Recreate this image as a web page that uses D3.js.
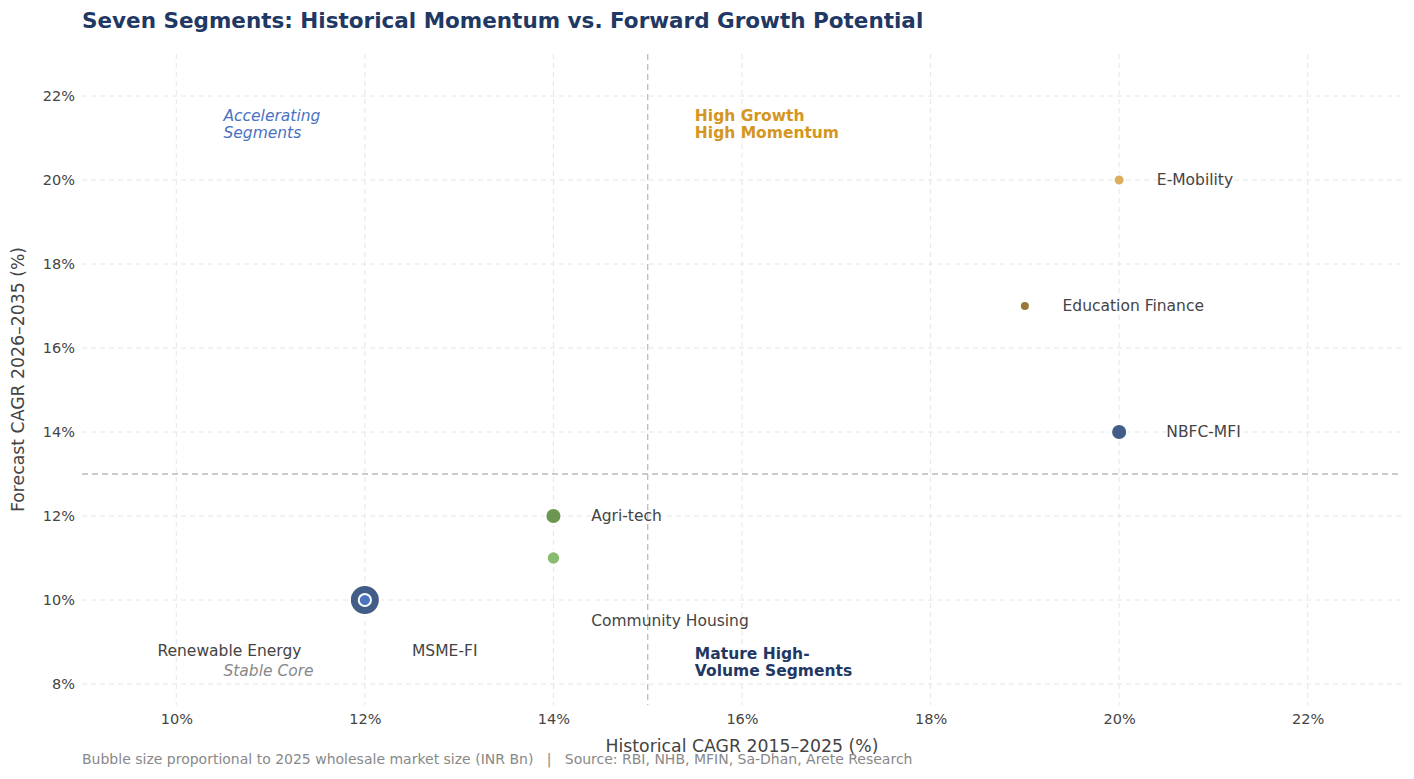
<!DOCTYPE html>
<html lang="en">
  <head>
    <meta charset="utf-8">
    <title>Seven Segments</title>
    <style>
      body { margin: 0; background: #fff; font-family: "DejaVu Sans", sans-serif; }
      .grid line { stroke: #e6e6e6; stroke-dasharray: 5,4; }
      .tick text { fill: #444; font-size: 14.5px; }
    </style>
  </head>
  <body>
    <div class="graph"></div>
    <script src="https://d3js.org/d3.v7.min.js"></script>
    <script>
      // segments, drawn big first so the small ones sit on top
      var segments = ['MSME-FI', 'Renewable Energy', 'NBFC-MFI', 'Agri-tech', 'Community Housing', 'E-Mobility', 'Education Finance'];
      var historical = [12, 12, 20, 14, 14, 20, 19];
      var forecast = [10, 10, 14, 12, 11, 20, 17];
      var marketSize = [900, 150, 260, 260, 180, 120, 100];
      var colors = ['#2f4b7c', '#4a78c8', '#2f4b7c', '#5b8c3e', '#7bb661', '#d9a54a', '#8b6d1e'];
      // label anchor points (in data units)
      var labelX = [12.5, 9.8, 20.5, 14.4, 14.4, 20.4, 19.4];
      var labelY = [8.8, 8.8, 14, 12, 9.5, 20, 17];

      var xTicks = [10, 12, 14, 16, 18, 20, 22];
      var yTicks = [8, 10, 12, 14, 16, 18, 20, 22];

      var width = 1414, height = 779;
      var margin = {top: 54, right: 12, bottom: 74, left: 82};

      var svg = d3.select('.graph').append('svg')
                  .attr('width', width).attr('height', height);

      var x = d3.scaleLinear().domain([9, 23]).range([margin.left, width - margin.right]);
      var y = d3.scaleLinear().domain([7.5, 23]).range([height - margin.bottom, margin.top]);
      var r = d3.scaleSqrt().domain([0, 900]).range([0, 15]);

      // grid
      svg.append('g').attr('class', 'grid')
         .selectAll('line').data(xTicks).enter().append('line')
         .attr('x1', function(d) { return x(d); }).attr('x2', function(d) { return x(d); })
         .attr('y1', y.range()[1]).attr('y2', y.range()[0]);
      svg.append('g').attr('class', 'grid')
         .selectAll('line').data(yTicks).enter().append('line')
         .attr('y1', function(d) { return y(d); }).attr('y2', function(d) { return y(d); })
         .attr('x1', x.range()[0]).attr('x2', x.range()[1]);

      // axes
      var xAxis = svg.append('g')
                     .attr('transform', 'translate(0,' + (height - margin.bottom) + ')')
                     .call(d3.axisBottom(x).tickValues(xTicks).tickSize(0).tickPadding(9)
                             .tickFormat(function(d) { return d + '%'; }));
      var yAxis = svg.append('g')
                     .attr('transform', 'translate(' + margin.left + ',0)')
                     .call(d3.axisLeft(y).tickValues(yTicks).tickSize(0).tickPadding(7)
                             .tickFormat(function(d) { return d + '%'; }));
      xAxis.select('.domain').remove();
      yAxis.select('.domain').remove();
      svg.selectAll('.tick text').attr('font-family', '"DejaVu Sans", sans-serif');

      // quadrant dividers
      svg.append('line')
         .attr('x1', x(15)).attr('x2', x(15)).attr('y1', y.range()[1]).attr('y2', y.range()[0])
         .attr('stroke', '#bbb').attr('stroke-width', 1.3).attr('stroke-dasharray', '6,4');
      svg.append('line')
         .attr('y1', y(13)).attr('y2', y(13)).attr('x1', x.range()[0]).attr('x2', x.range()[1])
         .attr('stroke', '#bbb').attr('stroke-width', 1.3).attr('stroke-dasharray', '6,4');

      // bubbles
      svg.append('g').selectAll('circle').data(segments).enter().append('circle')
         .attr('cx', function(d, i) { return x(historical[i]); })
         .attr('cy', function(d, i) { return y(forecast[i]); })
         .attr('r', function(d, i) { return r(marketSize[i]); })
         .attr('fill', function(d, i) { return colors[i]; })
         .attr('fill-opacity', 0.9)
         .attr('stroke', '#fff').attr('stroke-width', 2);

      // segment labels
      svg.append('g').selectAll('text').data(segments).enter().append('text')
         .attr('x', function(d, i) { return x(labelX[i]); })
         .attr('y', function(d, i) { return y(labelY[i]); })
         .attr('dy', '0.35em')
         .attr('font-size', 15.5).attr('fill', '#444')
         .text(function(d) { return d; });

      // quadrant labels
      var quadrants = [
        {lines: ['Accelerating', 'Segments'], qx: 10.5, qy: 21.4, color: '#4a72c4', style: 'italic', weight: 'normal'},
        {lines: ['High Growth', 'High Momentum'], qx: 15.5, qy: 21.4, color: '#d4961e', style: 'normal', weight: 'bold'},
        {lines: ['Mature High-', 'Volume Segments'], qx: 15.5, qy: 8.6, color: '#1f3864', style: 'normal', weight: 'bold'},
        {lines: ['Stable Core'], qx: 10.5, qy: 8.2, color: '#888', style: 'italic', weight: 'normal'}
      ];
      quadrants.forEach(function(q) {
        var t = svg.append('text')
                   .attr('x', x(q.qx)).attr('y', y(q.qy))
                   .attr('font-size', 15.5).attr('fill', q.color)
                   .attr('font-style', q.style).attr('font-weight', q.weight);
        q.lines.forEach(function(line, i) {
          t.append('tspan').attr('x', x(q.qx)).attr('dy', i === 0 ? '0' : '1.1em').text(line);
        });
      });

      // title and axis titles
      svg.append('text').attr('x', margin.left).attr('y', 28)
         .attr('font-size', 21.5).attr('font-weight', 'bold').attr('fill', '#1f3864')
         .text('Seven Segments: Historical Momentum vs. Forward Growth Potential');
      svg.append('text').attr('x', (x.range()[0] + x.range()[1]) / 2).attr('y', 752)
         .attr('text-anchor', 'middle').attr('font-size', 17.3).attr('fill', '#444')
         .text('Historical CAGR 2015–2025 (%)');
      svg.append('text')
         .attr('transform', 'translate(24,' + ((y.range()[0] + y.range()[1]) / 2) + ') rotate(-90)')
         .attr('text-anchor', 'middle').attr('font-size', 17.3).attr('fill', '#444')
         .text('Forecast CAGR 2026–2035 (%)');
      svg.append('text').attr('x', margin.left).attr('y', 764)
         .attr('font-size', 14).attr('fill', '#888')
         .style('white-space', 'pre')
         .text('Bubble size proportional to 2025 wholesale market size (INR Bn)   |   Source: RBI, NHB, MFIN, Sa-Dhan, Arete Research');
    </script>
  </body>
</html>
